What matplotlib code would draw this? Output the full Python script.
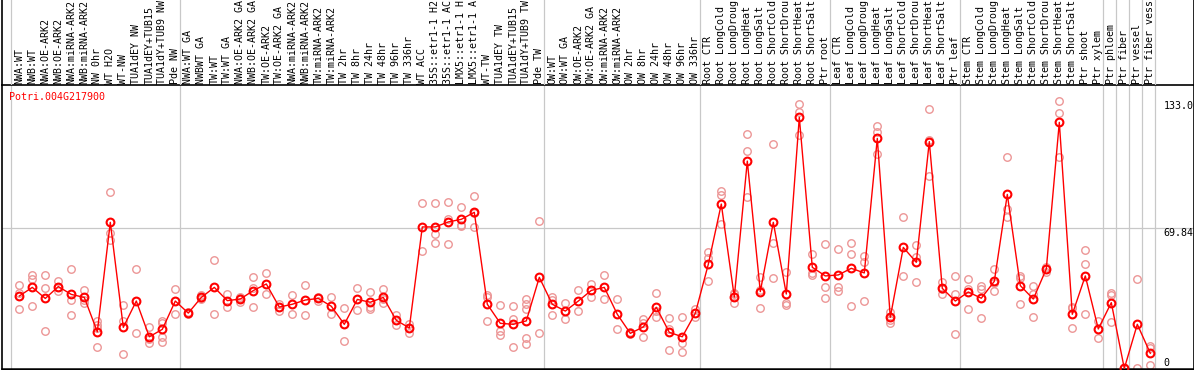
import matplotlib
matplotlib.use('Agg')
import matplotlib.pyplot as plt
import numpy as np

# ----- Data -----

gene = 'Potri.004G217900'

labels = [
    'NWA:WT', 'NWB:WT', 'NWA:OE-ARK2', 'NWB:OE-ARK2', 'NWA:miRNA-ARK2',
    'NWB:miRNA-ARK2', 'NW 0hr', 'WT H2O', 'WT-NW', 'TUA1dEY NW',
    'TUA1dEY+TUB15', 'TUA1dY+TUB9 NW', 'Pde NW',
    'NWA:WT GA', 'NWBWT GA', 'TW:WT', 'TW:WT GA', 'NWA:OE-ARK2 GA',
    'NWB:OE-ARK2 GA', 'TW:OE-ARK2', 'TW:OE-ARK2 GA', 'NWA:miRNA-ARK2',
    'NWB:miRNA-ARK2', 'TW:miRNA-ARK2', 'TW:miRNA-ARK2', 'TW 2hr', 'TW 8hr',
    'TW 24hr', 'TW 48hr', 'TW 96hr', 'TW 336hr', 'WT ACC', '35S::etr1-1 H2',
    '35S::etr1-1 AC', 'LMX5::etr1-1 H', 'LMX5::etr1-1 A', 'WT-TW',
    'TUA1dEY TW', 'TUA1dEY+TUB15', 'TUA1dY+TUB9 TW', 'Pde TW',
    'OW:WT', 'OW:WT GA', 'OW:OE-ARK2', 'OW:OE-ARK2 GA', 'OW:miRNA-ARK2',
    'OW:miRNA-ARK2', 'OW 2hr', 'OW 8hr', 'OW 24hr', 'OW 48hr', 'OW 96hr',
    'OW 336hr',
    'Root CTR', 'Root LongCold', 'Root LongDroug', 'Root LongHeat',
    'Root LongSalt', 'Root ShortCold', 'Root ShortDrou', 'Root ShortHeat',
    'Root ShortSalt', 'Ptr root',
    'Leaf CTR', 'Leaf LongCold', 'Leaf LongDroug', 'Leaf LongHeat',
    'Leaf LongSalt', 'Leaf ShortCold', 'Leaf ShortDrou', 'Leaf ShortHeat',
    'Leaf ShortSalt', 'Ptr leaf',
    'Stem CTR', 'Stem LongCold', 'Stem LongDroug', 'Stem LongHeat',
    'Stem LongSalt', 'Stem ShortCold', 'Stem ShortDrou', 'Stem ShortHeat',
    'Stem ShortSalt', 'Ptr shoot', 'Ptr xylem',
    'Ptr phloem', 'Ptr fiber', 'Ptr vessel', 'Ptr fiber vess',
]

# number of samples in each block between the grey separators
group_sizes = [13, 28, 12, 10, 10, 11, 1, 1, 1, 1]

means = [
    36.1, 40.4, 34.9, 40.8, 36.9, 35.4, 18.3, 72.8, 20.5, 33.6, 15.8, 19.5, 33.6,
    27.6, 35.4, 40.4, 33.8, 34.6, 38.8, 42.1, 30.6, 32.0, 34.1, 34.9, 31.0, 22.0,
    34.4, 33.0, 35.4, 24.0, 20.2, 70.5, 70.5, 73.0, 74.3, 77.8, 32.0, 22.5, 22.0,
    23.7, 45.4,
    32.0, 28.6, 33.6, 38.9, 40.4, 27.0, 17.5, 20.7, 30.5, 18.0, 15.8, 27.5,
    51.9, 81.9, 35.6, 103.3, 38.3, 72.8, 37.1, 125.1, 50.4, 46.1,
    46.6, 49.9, 47.6, 114.6, 25.5, 60.3, 52.9, 113.0, 39.9, 33.6,
    38.1, 35.0, 43.4, 86.7, 41.3, 34.6, 49.6, 122.6, 27.0, 46.1, 19.7,
    32.8, 0.0, 22.0, 7.6,
]

replicates = [
    [41.6, 37.4, 29.5], [46.4, 44.6, 31.0], [46.6, 39.9, 18.7],
    [43.5, 40.5, 38.5], [49.4, 34.1, 26.5], [39.1, 34.1, 32.8],
    [23.8, 21.5, 20.0, 10.5], [87.7, 67.3, 64.0], [31.5, 23.8, 7.0],
    [49.4, 17.5], [20.5, 14.5, 12.5], [23.8, 22.5, 15.5, 13.4], [39.4, 27.0],
    [27.9, 27.3], [36.6, 34.9, 34.7], [54.0, 27.0], [36.9, 30.5],
    [35.4, 33.1, 35.3], [45.7, 40.2, 30.5], [47.4, 36.9], [32.0, 28.8],
    [36.4, 27.0], [41.4, 26.5], [35.4, 33.6], [35.4, 27.0], [30.0, 13.7],
    [39.9, 29.0], [38.1, 30.8, 29.5], [39.6, 34.5, 32.5], [26.6, 21.8],
    [22.2, 17.8], [82.3, 58.5], [82.3, 66.8, 62.3], [82.8, 74.3, 61.8],
    [80.3, 71.5, 71.1], [85.9, 77.3, 70.5], [36.6, 35.4, 23.7],
    [31.5, 18.8, 16.5], [31.0, 24.8, 10.7], [34.4, 32.0, 29.5, 15.0, 12.0],
    [73.3, 17.5],
    [35.4, 34.0, 26.6], [32.5, 24.5], [39.1, 28.6], [42.1, 35.4],
    [46.4, 34.6], [34.6, 19.5], [18.2, 17.0], [24.5, 22.8, 15.5],
    [37.4, 28.5, 25.6], [25.1, 19.5, 9.0], [25.5, 12.5, 8.4], [29.6, 25.8],
    [58.2, 54.9, 43.6], [88.6, 86.4, 72.0], [37.7, 37.2, 32.5],
    [116.6, 108.3, 85.4], [45.7, 39.1, 30.0], [111.8, 62.3, 44.9],
    [48.2, 32.5, 31.6], [131.7, 127.9, 116.3], [57.0, 47.4, 46.5],
    [62.0, 40.8, 35.0],
    [59.3, 40.8, 38.8], [62.3, 57.0, 31.1], [56.2, 53.2, 33.6],
    [120.8, 117.9, 106.6], [28.3, 24.2, 22.8], [75.3, 46.1],
    [61.5, 55.4, 42.9], [129.2, 113.8, 96.0], [43.2, 39.5, 37.1],
    [46.1, 37.1, 17.0],
    [44.4, 39.4, 29.5], [41.1, 39.4, 25.0], [49.6, 42.4, 38.6],
    [105.2, 79.3, 75.3], [46.1, 44.9, 32.1], [41.1, 37.1, 25.5],
    [50.7, 48.2], [133.0, 127.1, 105.5], [30.5, 30.0, 20.0],
    [59.0, 52.0, 27.1], [23.8, 15.0],
    [37.7, 36.6, 23.2], [0.0, 0.0], [44.4, 0.0], [11.4, 10.0, 1.7],
]

y_ticks = [133.0, 69.84, 0]
y_tick_labels = ['133.0', '69.84', '0']

# ----- Layout -----

W, H = 1194, 370
HEADER = 85
GRID = '#c8c8c8'
MONO = 'DejaVu Sans Mono'
FS = 7.2

x_lo = (1.5 - 19.3) / 13
x_hi = (1193.5 - 19.3) / 13
offset = 0.64  # separators sit a bit left of the slot edge

fig = plt.figure(figsize=(W / 100, H / 100), dpi=100)
ax = fig.add_axes([1.5 / W, 1 / H, 1192 / W, (H - HEADER - 1) / H])
hd = fig.add_axes([1.5 / W, (H - HEADER) / H, 1192 / W, HEADER / H])

x = np.arange(len(labels))
bounds = np.concatenate([[0], np.cumsum(group_sizes)]) - offset

# ----- Header with sample names -----

hd.set_xlim(x_lo, x_hi)
hd.set_ylim(0, HEADER)
hd.set_xticks([])
hd.set_yticks([])
hd.patch.set_visible(False)
for side in ['top', 'bottom']:
    hd.spines[side].set_visible(False)
for side in ['left', 'right']:
    hd.spines[side].set_linewidth(1.2)
for b in bounds:
    hd.axvline(b, color=GRID, lw=0.9, zorder=0)
for i, lab in enumerate(labels):
    hd.text(i, 1, lab, rotation=90, ha='center', va='bottom',
            fontsize=FS, family=MONO, color='black', clip_on=True)

# ----- Expression plot -----

ax.set_xlim(x_lo, x_hi)
ax.set_ylim(-0.25, 141.2)
ax.set_xticks([])
ax.set_yticks([])
for side in ax.spines:
    ax.spines[side].set_linewidth(1.2)
ax.spines['bottom'].set_linewidth(1.8)

for b in bounds:
    ax.axvline(b, color=GRID, lw=0.9, zorder=0)
ax.axhline(y_ticks[1], color=GRID, lw=0.9, zorder=0)

for i, vals in enumerate(replicates):
    ax.plot([i] * len(vals), vals, linestyle='none', marker='o',
            mfc='none', mec='#ec9696', ms=5.4, mew=1.0, zorder=2)

ax.plot(x, means, color='red', lw=1.0, marker='o', mfc='none',
        mec='red', ms=5.6, mew=1.5, zorder=3)

ax.text(7.8 / 1192, 1 - 12.2 / (H - HEADER - 1), gene, transform=ax.transAxes,
        ha='left', va='center', fontsize=FS, family=MONO, color='red')

for val, lab in zip(y_ticks, y_tick_labels):
    ax.text(len(labels), val, lab, ha='left',
            va='bottom' if val == 0 else 'top',
            fontsize=FS, family=MONO, color='black')

plt.savefig('out.png', dpi=100)
